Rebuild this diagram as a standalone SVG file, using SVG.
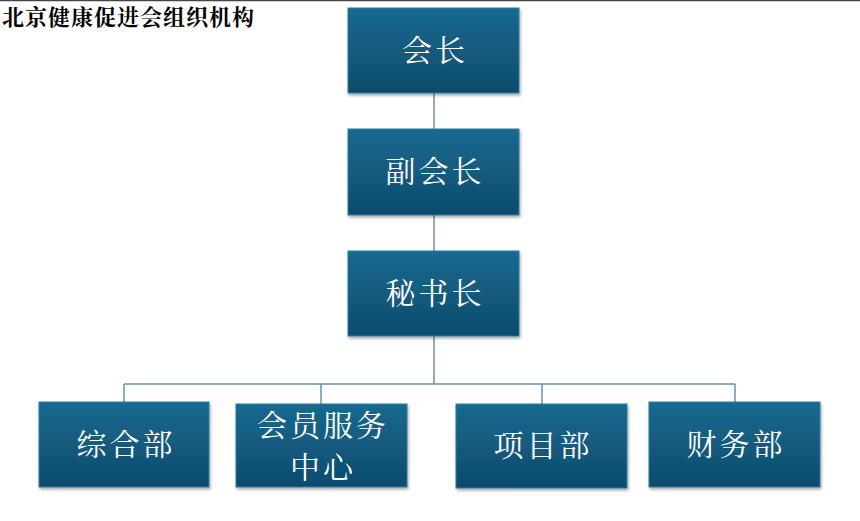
<svg xmlns="http://www.w3.org/2000/svg" width="860" height="521" viewBox="0 0 860 521">
<defs>
<linearGradient id="g" x1="0" y1="0" x2="0" y2="1">
<stop offset="0" stop-color="#18698f"/>
<stop offset="1" stop-color="#0e4b6c"/>
</linearGradient>
<filter id="sh" x="-10%" y="-10%" width="120%" height="130%">
<feDropShadow dx="1" dy="2" stdDeviation="1.5" flood-color="#000" flood-opacity="0.35"/>
</filter>
<style>
.box{fill:url(#g);stroke:#2a7fa3;stroke-width:1;filter:url(#sh)}
.t{font-family:"Noto Serif CJK SC","Noto Sans CJK SC",serif;font-size:30px;fill:#fff;text-anchor:middle;letter-spacing:3px}
.c{stroke:#6b93a8;stroke-width:1.5;fill:none}
.title{font-family:"Noto Serif CJK SC","Noto Sans CJK SC",serif;font-size:22px;font-weight:bold;fill:#000;letter-spacing:1px}
</style>
</defs>
<rect x="0" y="0" width="860" height="521" fill="#fff"/>
<line x1="0" y1="0.5" x2="860" y2="0.5" stroke="#444" stroke-width="1.5"/>
<text class="title" x="2" y="25">北京健康促进会组织机构</text>
<g id="connectors">
<path class="c" d="M434 93V129M434 215V251M434 336V384M124 384H735M124 384V402M321 384V404M542 384V404M735 384V402"/>
</g>
<g id="n1"><rect class="box" x="348" y="8" width="171" height="85"/><text class="t" x="435" y="61">会长</text></g>
<g id="n2"><rect class="box" x="348" y="129" width="171" height="86"/><text class="t" x="435" y="182">副会长</text></g>
<g id="n3"><rect class="box" x="348" y="251" width="171" height="85"/><text class="t" x="435" y="304">秘书长</text></g>
<g id="n4"><rect class="box" x="39" y="402" width="170" height="85"/><text class="t" x="126" y="455">综合部</text></g>
<g id="n5"><rect class="box" x="236" y="404" width="171" height="83"/><text class="t" x="323" y="436">会员服务</text><text class="t" x="323" y="478">中心</text></g>
<g id="n6"><rect class="box" x="456" y="404" width="171" height="84"/><text class="t" x="543" y="456">项目部</text></g>
<g id="n7"><rect class="box" x="649" y="402" width="171" height="85"/><text class="t" x="736" y="455">财务部</text></g>
</svg>
